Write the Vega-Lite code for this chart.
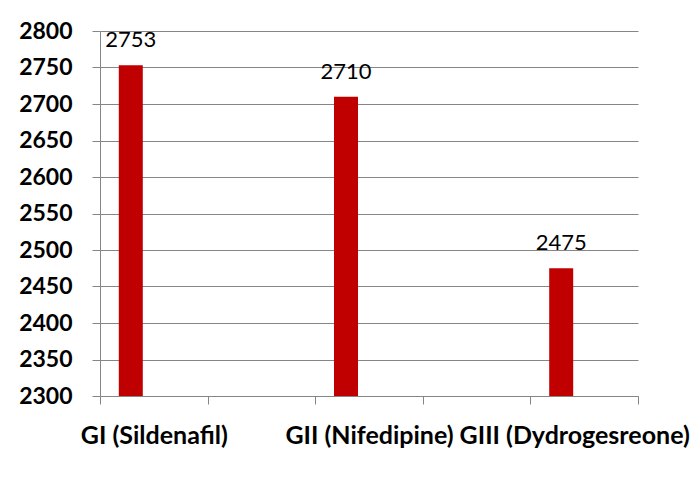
{
  "$schema": "https://vega.github.io/schema/vega-lite/v6.json",
  "autosize": "none",
  "width": 538,
  "height": 365,
  "padding": {"left": 100, "top": 31, "right": 55, "bottom": 81},
  "background": "white",
  "config": {
    "view": {"stroke": null}
  },
  "data": {
    "values": [
      {"group": "GI (Sildenafil)", "value": 2753},
      {"group": "GII (Nifedipine)", "value": 2710},
      {"group": "GIII (Dydrogesreone)", "value": 2475}
    ]
  },
  "encoding": {
    "x": {
      "field": "group",
      "type": "nominal",
      "sort": null,
      "scale": {
        "domain": ["GI (Sildenafil)", " ", "GII (Nifedipine)", "  ", "GIII (Dydrogesreone)"],
        "paddingInner": 0,
        "paddingOuter": 0
      },
      "axis": {
        "title": null,
        "labelAngle": 0,
        "labelFont": "Lato",
        "labelFontSize": 25,
        "labelFontWeight": "bold",
        "labelColor": "black",
        "labelPadding": 19,
        "labelLimit": 400,
        "labelOffset": {"condition": {"test": "datum.value == 'GIII (Dydrogesreone)'", "value": -10}, "value": 0},
        "tickBand": "extent",
        "tickSize": 8,
        "tickColor": "#868686",
        "domainColor": "#868686"
      }
    },
    "y": {
      "field": "value",
      "type": "quantitative",
      "scale": {"domain": [2300, 2800], "zero": false, "nice": false},
      "axis": {
        "title": null,
        "format": "d",
        "labelFont": "Lato",
        "labelFontSize": 23,
        "labelFontWeight": "bold",
        "labelColor": "black",
        "labelPadding": 20,
        "tickSize": 8,
        "tickColor": "#868686",
        "domainColor": "#868686",
        "gridColor": "#868686"
      }
    }
  },
  "layer": [
    {
      "mark": {"type": "bar", "color": "#C00000", "width": 24, "xOffset": -23},
      "encoding": {"y2": {"datum": 2300}}
    },
    {
      "mark": {"type": "text", "baseline": "alphabetic", "dy": -18, "xOffset": -23, "font": "Lato", "fontSize": 22, "color": "black"},
      "encoding": {"text": {"field": "value", "type": "quantitative"}}
    }
  ]
}
